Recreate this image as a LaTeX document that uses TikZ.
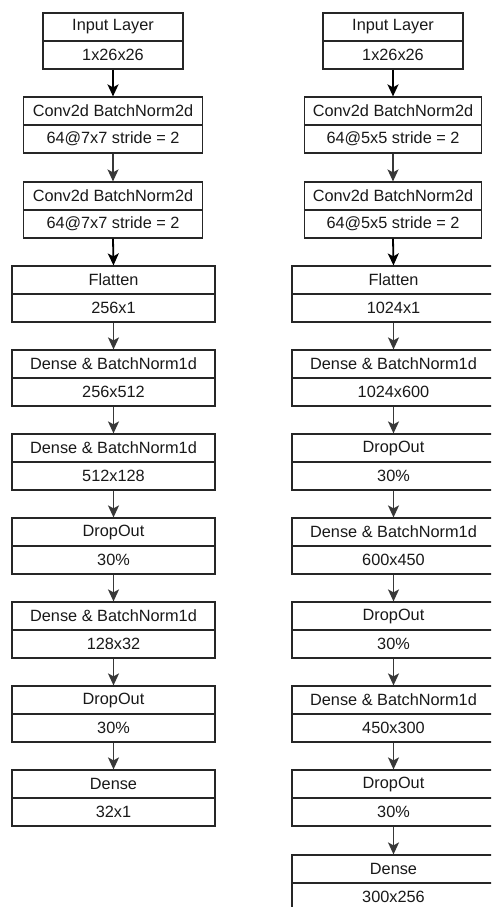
\documentclass[tikz,border=0pt]{standalone}
\usepackage{fontspec}
\setmainfont{Liberation Sans}
\usetikzlibrary{arrows.meta,calc}
\tikzset{
  x=1pt,y=-1pt,
  layer/.style={draw=black!85, line width=1.2pt, minimum height=56pt, inner sep=0pt, fill=white},
  celltext/.style={inner sep=0pt, font=\fontsize{16.3pt}{18pt}\selectfont, text=black!90},
  arr/.style={draw=black!78, line width=1.5pt, -{Stealth[length=12pt,width=11pt,inset=3pt]}},
  arrdark/.style={arr, draw=black, line width=1.8pt}
}
\newcommand\layerbox[6]{%
  \node[layer, minimum width=#4pt] (#1) at (#2,#3) {};
  \draw[draw=black!85, line width=1.2pt] (#1.west) -- (#1.east);
  \node[celltext] (#1-t) at ([yshift=14pt]#1.center) {#5};
  \node[celltext] (#1-b) at ([yshift=-14pt]#1.center) {#6};
}
\begin{document}
\begin{tikzpicture}
\useasboundingbox[fill=white] (0,0) rectangle (491,907);
\begin{scope}
\clip (0,0) rectangle (491,907);
% left column
\layerbox{l1}{113}{41}{140}{Input Layer}{1x26x26}
\layerbox{l2}{113}{125}{179}{Conv2d BatchNorm2d}{64@7x7 stride = 2}
\layerbox{l3}{113}{210}{179}{Conv2d BatchNorm2d}{64@7x7 stride = 2}
\layerbox{l4}{113.5}{294}{203}{Flatten}{256x1}
\layerbox{l5}{113.5}{378}{203}{Dense \& BatchNorm1d}{256x512}
\layerbox{l6}{113.5}{462}{203}{Dense \& BatchNorm1d}{512x128}
\layerbox{l7}{113.5}{546}{203}{DropOut}{30\%}
\layerbox{l8}{113.5}{630}{203}{Dense \& BatchNorm1d}{128x32}
\layerbox{l9}{113.5}{714}{203}{DropOut}{30\%}
\layerbox{l10}{113.5}{798}{203}{Dense}{32x1}
% right column
\layerbox{r1}{393}{41}{140}{Input Layer}{1x26x26}
\layerbox{r2}{393}{125}{177}{Conv2d BatchNorm2d}{64@5x5 stride = 2}
\layerbox{r3}{393}{210}{177}{Conv2d BatchNorm2d}{64@5x5 stride = 2}
\layerbox{r4}{393.5}{294}{203}{Flatten}{1024x1}
\layerbox{r5}{393.5}{378}{203}{Dense \& BatchNorm1d}{1024x600}
\layerbox{r6}{393.5}{462}{203}{DropOut}{30\%}
\layerbox{r7}{393.5}{546}{203}{Dense \& BatchNorm1d}{600x450}
\layerbox{r8}{393.5}{630}{203}{DropOut}{30\%}
\layerbox{r9}{393.5}{714}{203}{Dense \& BatchNorm1d}{450x300}
\layerbox{r10}{393.5}{798}{203}{DropOut}{30\%}
\layerbox{r11}{393.5}{883}{203}{Dense}{300x256}
% arrows
\draw[arrdark] (l1.south) -- (l2.north);
\draw[arr] (l2.south) -- (l3.north);
\draw[arrdark] (l3.south) -- (l4.north);
\foreach \a/\b in {4/5,5/6,6/7,7/8,8/9,9/10}{\draw[arr] (l\a.south) -- (l\b.north);}
\draw[arrdark] (r1.south) -- (r2.north);
\draw[arr] (r2.south) -- (r3.north);
\draw[arrdark] (r3.south) -- (r4.north);
\foreach \a/\b in {4/5,5/6,6/7,7/8,8/9,9/10,10/11}{\draw[arr] (r\a.south) -- (r\b.north);}
\end{scope}
\end{tikzpicture}
\end{document}
